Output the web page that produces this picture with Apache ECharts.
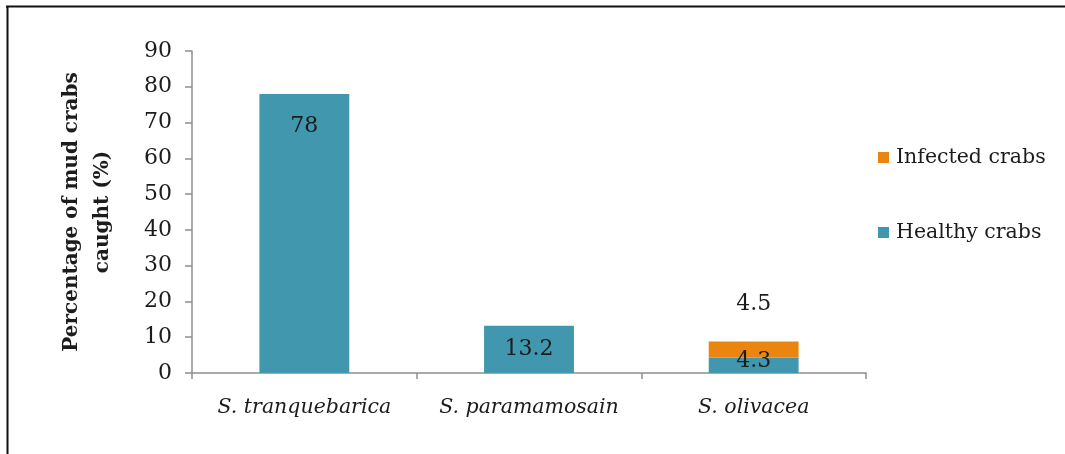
<!DOCTYPE html>
<html>
<head>
<meta charset="utf-8">
<script src="https://cdn.jsdelivr.net/npm/echarts@6/dist/echarts.min.js"></script>
<style>
  html, body { margin: 0; padding: 0; background: #fff; }
  #chart { width: 1065px; height: 454px; }
</style>
</head>
<body>
<div id="chart"></div>
<script>
// Mud crab species caught, split into healthy and infected shares
const categories = ['S. tranquebarica', 'S. paramamosain', 'S. olivacea'];
const healthy = [78, 13.2, 4.3];
const infected = [null, null, 4.5];
const yTicks = { min: 0, max: 90, interval: 10 };

const SERIF = '"DejaVu Serif", "Liberation Serif", serif';
const TEAL = '#4197ae';
const ORANGE = '#ea860f';
const INK = '#1c1c1c';
const AXIS = '#8f8f8f';

const chart = echarts.init(document.getElementById('chart'), null, { renderer: 'canvas' });

// per-bar label placement for the healthy series
const healthyLabels = [
  { position: 'insideTop', distance: 21 },
  { position: 'inside' },
  { position: 'inside', offset: [0, -4] }
];

chart.setOption({
  animation: false,
  backgroundColor: '#fff',
  graphic: [
    { type: 'line', shape: { x1: 6, y1: 6.5, x2: 1065, y2: 6.5 }, style: { stroke: '#111', lineWidth: 2 } },
    { type: 'line', shape: { x1: 7.5, y1: 6, x2: 7.5, y2: 454 }, style: { stroke: '#111', lineWidth: 2 } }
  ],
  grid: { left: 192, right: 199, top: 51, bottom: 81, containLabel: false },
  legend: {
    orient: 'vertical',
    left: 873,
    top: 142,
    itemWidth: 11,
    itemHeight: 11,
    itemGap: 54,
    icon: 'rect',
    data: ['Infected crabs', 'Healthy crabs'],
    textStyle: { fontFamily: SERIF, fontSize: 20.5, color: INK, padding: [0, 0, 0, 2] }
  },
  xAxis: {
    type: 'category',
    data: categories,
    axisLine: { lineStyle: { color: AXIS, width: 1.5 } },
    axisTick: { show: true, length: 6, lineStyle: { color: AXIS, width: 1.5 } },
    axisLabel: { interval: 0, hideOverlap: false, fontFamily: SERIF, fontStyle: 'italic', fontSize: 20.5, color: INK, margin: 25 }
  },
  yAxis: {
    type: 'value',
    min: yTicks.min,
    max: yTicks.max,
    interval: yTicks.interval,
    name: 'Percentage of mud crabs\ncaught (%)',
    nameLocation: 'middle',
    nameGap: 74,
    nameTextStyle: { fontFamily: SERIF, fontWeight: 'bold', fontSize: 20, color: INK, lineHeight: 31, align: 'center' },
    axisLine: { show: true, lineStyle: { color: AXIS, width: 1.5 } },
    axisTick: { show: true, length: 7, lineStyle: { color: AXIS, width: 1.5 } },
    splitLine: { show: false },
    axisLabel: { fontFamily: SERIF, fontSize: 22, color: INK, margin: 20 }
  },
  series: [
    {
      name: 'Healthy crabs',
      type: 'bar',
      stack: 'crabs',
      barWidth: '40%',
      itemStyle: { color: TEAL },
      data: healthy.map((v, i) => ({ value: v, label: healthyLabels[i] })),
      label: { show: true, fontFamily: SERIF, fontSize: 22, color: INK }
    },
    {
      name: 'Infected crabs',
      type: 'bar',
      stack: 'crabs',
      barWidth: '40%',
      itemStyle: { color: ORANGE },
      data: infected,
      label: { show: true, position: 'top', distance: 26, fontFamily: SERIF, fontSize: 22, color: INK }
    }
  ]
});
</script>
</body>
</html>
